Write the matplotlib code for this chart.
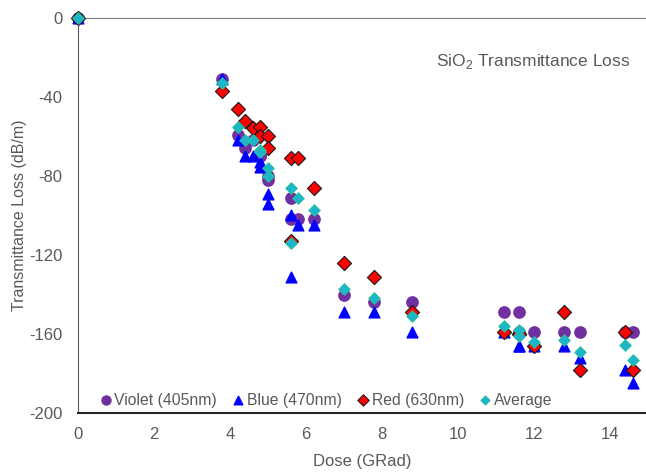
import matplotlib
matplotlib.use('Agg')
import matplotlib.pyplot as plt

# doses (GRad), some doses measured twice
dose = [0, 3.8, 4.2, 4.4, 4.6, 4.8, 4.8, 5.0, 5.0, 5.6, 5.6, 5.8, 6.2,
        7.0, 7.8, 8.8, 11.2, 11.6, 11.6, 12.0, 12.8, 13.2, 14.4, 14.6]

violet = [0, -31, -59, -66, -62, -70, -70, -80, -82, -91, -102, -102, -102,
          -140, -144, -144, -149, -149, -159, -159, -159, -159, -159, -159]
blue = [0, -31, -62, -70, -70, -73, -75.5, -89, -94, -100, -131, -105, -105,
        -149, -149, -159, -159, -166, -166, -166, -166, -172, -178, -185]
red = [0, -37, -46, -52, -55.5, -55, -60, -60, -66, -71, -113, -71, -86,
       -124, -131, -149, -159, -160, -160, -166, -149, -178, -159, -178]
average = [0, -33, -55, -62, -62, -67, -68, -76, -80, -86, -114, -91, -97,
           -137, -142, -151, -156, -158, -161, -164, -163, -169, -165.6, -173]

y_ticks = [0, -40, -80, -120, -160, -200]
x_ticks = [0, 2, 4, 6, 8, 10, 12, 14]

plt.rcParams['font.family'] = ['Liberation Sans', 'DejaVu Sans']
plt.rcParams['mathtext.fontset'] = 'custom'
plt.rcParams['mathtext.rm'] = 'Liberation Sans'
plt.rcParams['axes.unicode_minus'] = False
text_gray = '#595959'

fig = plt.figure(figsize=(6.46, 4.73), dpi=100)
ax = fig.add_axes([0.1207, 0.1268, 0.8793, 0.8352])

ax.scatter(dose, violet, s=66, marker='o', color='#7030A0', label='Violet (405nm)',
           zorder=3, clip_on=False)
ax.scatter(dose, blue, s=60, marker='^', color='#0000FF', label='Blue (470nm)',
           zorder=4, clip_on=False)
ax.scatter(dose, red, s=52, marker='D', facecolor='#FF0000', edgecolor='#1a1a1a',
           linewidth=0.8, label='Red (630nm)', zorder=5, clip_on=False)
ax.scatter(dose, average, s=36, marker='D', facecolor='#1CB6CC', edgecolor='#2BC48F',
           linewidth=0.6, label='Average', zorder=6, clip_on=False)

ax.set_xlim(0, 14.95)
ax.set_ylim(-200, 0)
ax.set_xticks(x_ticks)
ax.set_yticks(y_ticks)
ax.tick_params(length=0, labelsize=12, colors=text_gray)
ax.tick_params(axis='x', pad=10)
ax.tick_params(axis='y', pad=11)

ax.set_xlabel('Dose (GRad)', fontsize=12, color=text_gray, labelpad=9)
ax.set_ylabel('Transmittance Loss (dB/m)', fontsize=11.5, color=text_gray)
ax.yaxis.set_label_coords(-0.09, 0.5)

ax.spines['right'].set_visible(False)
ax.spines['left'].set_color('#595959')
ax.spines['top'].set_color('#7f7f7f')
ax.spines['bottom'].set_color('#262626')
ax.spines['bottom'].set_linewidth(1.5)

ax.text(0.972, 0.889, r'SiO$_2$ Transmittance Loss', transform=ax.transAxes,
        ha='right', va='center', fontsize=12.5, color=text_gray)

legend = ax.legend(loc='lower left', bbox_to_anchor=(0.02, -0.01), ncol=4,
                   frameon=False, fontsize=11.3, handletextpad=0.1,
                   handlelength=0.9, columnspacing=0.9, markerscale=0.8,
                   borderaxespad=0.2)
for t in legend.get_texts():
    t.set_color(text_gray)

plt.savefig('out.png', dpi=100)
plt.close()
